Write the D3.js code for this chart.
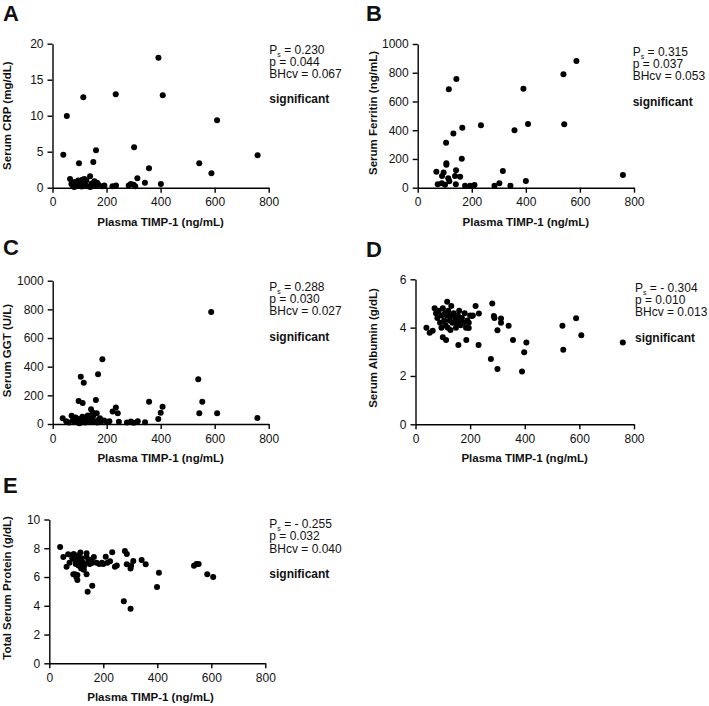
<!DOCTYPE html>
<html><head><meta charset="utf-8">
<script src="https://cdn.jsdelivr.net/npm/d3@7"></script>
<style>
body{margin:0;background:#fff}
svg{display:block}
text{font-family:"Liberation Sans",Arial,Helvetica,sans-serif}
</style>
</head><body>
<svg id="chart" width="709" height="706"></svg>
<script>
// ---------- DATA ----------
const xTickValues = [0, 200, 400, 600, 800];
const xTitle = "Plasma TIMP-1 (ng/mL)";
const panelLetters = ["A", "B", "C", "D", "E"];
const yTitles = ["Serum CRP (mg/dL)", "Serum Ferritin (ng/mL)", "Serum GGT (U/L)", "Serum Albumin (g/dL)", "Total Serum Protein (g/dL)"];
const crpTicks = [0, 5, 10, 15, 20];
const ferritinTicks = [0, 200, 400, 600, 800, 1000];
const ggtTicks = [0, 200, 400, 600, 800, 1000];
const albuminTicks = [0, 2, 4, 6];
const proteinTicks = [0, 2, 4, 6, 8, 10];
const rhoValues = ["0.230", "0.315", "0.288", "- 0.304", "- 0.255"];
const pValues = ["0.044", "0.037", "0.030", "0.010", "0.032"];
const bhValues = ["0.067", "0.053", "0.027", "0.013", "0.040"];
const verdicts = ["significant", "significant", "significant", "significant", "significant"];

const crpX = [392,114,234,408,53,609,302,40,759,161,151,98,543,357,588,314,342,401,139,
  65,70,75,82,88,95,100,105,110,115,120,125,130,145,155,160,170,185,192,222,235,282,290,300,306,80,108,140,165,118];
const crpY = [18.06,12.55,12.97,12.83,9.96,9.36,5.61,4.58,4.5,5.19,3.57,3.39,3.39,2.69,2.0,1.3,0.7,0.51,1.6,
  1.2,0.5,0.3,0.8,0.2,1.0,0.4,0.9,1.1,0.3,0.7,1.0,0.2,0.6,0.9,0.3,0.4,0.2,0.3,0.2,0.3,0.3,0.5,0.4,0.2,0.1,0.15,0.1,0.7,1.2];

const ferritinX = [587,539,391,143,115,542,408,358,234,165,132,105,163,106,106,69,96,90,142,138,157,113,117,74,89,101,141,175,194,210,284,302,315,343,400,759];
const ferritinY = [882,789,689,756,685,441,443,399,434,418,378,313,202,170,160,111,106,81,121,81,77,65,45,24,31,20,24,14,14,19,14,31,116,14,47,88];

const ggtX = [587,184,104,115,168,539,96,111,160,357,554,407,400,391,543,609,758,234,222,241,142,163,37,70,
  50,60,75,80,85,90,95,100,105,110,115,120,125,130,135,140,145,150,155,165,170,180,190,200,210,245,275,290,300,315,342,100,120,148,175];
const ggtY = [782,451,330,288,347,312,160,147,167,156,156,121,79,35,75,75,42,116,88,75,103,75,40,58,
  20,10,30,15,45,25,8,35,20,50,30,10,40,60,25,15,35,55,20,10,30,20,25,15,20,15,10,18,8,20,12,5,45,80,40];

const albuminX = [281,116,131,220,70,232,287,289,313,313,341,300,357,406,398,276,300,390,538,588,607,541,759,231,186,157,100,112,40,52,63,195,206,
  75,80,85,90,95,95,100,105,108,110,115,118,120,125,128,130,135,140,145,148,150,155,160,162,165,170,175,180,185,190,195,200,210];
const albuminY = [5.0,5.07,4.9,4.9,4.8,4.59,4.48,4.4,4.38,4.2,4.08,3.89,3.49,3.39,2.98,2.7,2.29,2.18,4.08,4.39,3.68,3.09,3.39,3.28,3.49,3.28,3.6,3.49,4.0,3.79,3.87,3.98,4.48,
  4.6,4.4,4.7,4.2,4.5,4.0,4.8,4.3,4.6,4.1,4.5,4.0,4.7,4.3,3.9,4.5,4.2,4.6,4.4,4.0,4.2,4.5,4.7,4.3,4.1,4.4,4.2,4.6,4.0,4.3,4.2,4.5,4.5];

const proteinX = [40,52,70,64,75,85,90,95,98,100,105,108,110,112,115,118,120,125,130,138,138,142,159,104,104,89,138,145,150,160,165,175,185,195,209,215,225,233,243,250,276,301,280,287,287,303,301,311,342,357,399,406,536,545,553,585,607,95,100,120,128,155,200];
const proteinY = [8.09,7.39,7.58,6.72,7.0,7.3,7.6,7.2,6.9,7.5,7.1,6.8,7.4,7.0,7.7,6.6,7.3,7.0,6.8,7.65,7.4,4.98,5.4,6.14,5.79,6.19,6.19,7.1,6.9,7.0,7.4,7.0,6.9,7.0,7.41,7.0,7.1,7.72,6.72,6.8,4.31,3.8,7.81,7.6,6.88,6.8,6.6,7.11,7.18,6.88,5.31,6.3,6.79,6.9,6.9,6.19,6.0,6.2,6.0,6.7,6.5,7.2,6.9];

// ---------- LAYOUT ----------
const layout = [
  {xs:crpX, ys:crpY, ticks:crpTicks, x0:52.5, x1:268.7, yTop:43.7, yBot:187.7, letterX:3, letterY:21, yTitleX:11, yTitleY:115.7, xTitleX:160.5, statX:269.3, statY:54, sigY:103},
  {xs:ferritinX, ys:ferritinY, ticks:ferritinTicks, x0:417.7, x1:634, yTop:44, yBot:187.7, letterX:366, letterY:21, yTitleX:376.5, yTitleY:113, xTitleX:525.8, statX:632.7, statY:56, sigY:106},
  {xs:ggtX, ys:ggtY, ticks:ggtTicks, x0:52.7, x1:268.7, yTop:280.7, yBot:424, letterX:3, letterY:255, yTitleX:11, yTitleY:350.5, xTitleX:160.7, statX:269.3, statY:291, sigY:340.5},
  {xs:albuminX, ys:albuminY, ticks:albuminTicks, x0:415.5, x1:634, yTop:279.3, yBot:424.3, letterX:366, letterY:256.5, yTitleX:376.5, yTitleY:348, xTitleX:524.7, statX:635, statY:291.7, sigY:341.7},
  {xs:proteinX, ys:proteinY, ticks:proteinTicks, x0:49.3, x1:265.3, yTop:519.5, yBot:663.3, letterX:3, letterY:493.3, yTitleX:11, yTitleY:588, xTitleX:150.5, statX:269.3, statY:528.3, sigY:578.3}
];

const svg = d3.select("#chart");
const fmt = d3.format("d");

layout.forEach((L, i) => {
  const g = svg.append("g");
  const x = d3.scaleLinear().domain([0, 800]).range([L.x0, L.x1]);
  const y = d3.scaleLinear().domain([0, d3.max(L.ticks)]).range([L.yBot, L.yTop]);

  const xa = g.append("g").attr("transform", `translate(0,${L.yBot})`)
    .call(d3.axisBottom(x).tickValues(xTickValues).tickFormat(fmt).tickSize(5).tickSizeOuter(0).tickPadding(5));
  const ya = g.append("g").attr("transform", `translate(${L.x0},0)`)
    .call(d3.axisLeft(y).tickValues(L.ticks).tickFormat(fmt).tickSize(5).tickSizeOuter(0).tickPadding(4));
  [xa, ya].forEach(a => {
    a.select(".domain").attr("stroke", "#000").attr("stroke-width", 1.4);
    a.selectAll(".tick line").attr("stroke", "#000").attr("stroke-width", 1.4);
    a.selectAll(".tick text").attr("fill", "#111").style("font-size", "12px")
      .style("font-family", '"Liberation Sans",Arial,sans-serif');
  });

  // points
  g.append("g").selectAll("circle").data(L.xs.map((v, k) => [v, L.ys[k]])).join("circle")
    .attr("cx", d => x(d[0])).attr("cy", d => y(d[1])).attr("r", 3).attr("fill", "#000");

  // titles
  g.append("text").attr("x", L.xTitleX).attr("y", L.yBot + 38).attr("text-anchor", "middle")
    .style("font-size", "11.5px").style("font-weight", "bold").attr("fill", "#111").text(xTitle);
  g.append("text").attr("transform", `translate(${L.yTitleX},${L.yTitleY}) rotate(-90)`)
    .attr("text-anchor", "middle").style("font-size", "11.5px").style("font-weight", "bold")
    .attr("fill", "#111").text(yTitles[i]);

  // panel letter
  g.append("text").attr("x", L.letterX).attr("y", L.letterY).style("font-size", "22px")
    .style("font-weight", "bold").attr("fill", "#111").text(panelLetters[i]);

  // stats block (single text element, one line per tspan)
  const t = g.append("text").attr("x", L.statX).attr("y", L.statY).style("font-size", "12px").attr("fill", "#111");
  t.append("tspan").text("P");
  t.append("tspan").attr("dy", 3).style("font-size", "7px").text("s");
  t.append("tspan").attr("dy", -3).text(" = " + rhoValues[i]);
  t.append("tspan").attr("x", L.statX).attr("y", L.statY + 12).text("p = " + pValues[i]);
  t.append("tspan").attr("x", L.statX).attr("y", L.statY + 24.3).text("BHcv = " + bhValues[i]);
  t.append("tspan").attr("x", L.statX).attr("y", L.sigY).style("font-weight", "bold").text(verdicts[i]);
});
</script>
</body></html>
